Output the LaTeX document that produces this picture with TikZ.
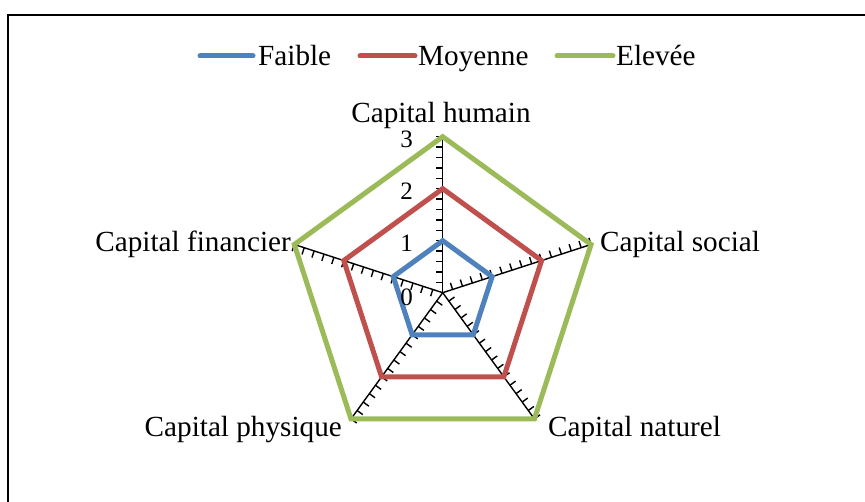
\documentclass[tikz,border=0pt]{standalone}
\usepackage{fontspec}
\setmainfont{Liberation Serif}
\definecolor{sblue}{HTML}{4F81BD}
\definecolor{sred}{HTML}{C0504D}
\definecolor{sgreen}{HTML}{9BBB59}
\begin{document}
\begin{tikzpicture}[x=1pt,y=1pt,
  lab/.style={font=\fontsize{29.2}{34}\selectfont, inner sep=0pt},
  num/.style={font=\fontsize{25}{30}\selectfont, inner sep=0pt, anchor=east},
  axisline/.style={line width=1.4pt, black},
  series/.style={line width=5pt, line join=miter},
  keyline/.style={line width=5pt, line cap=round}]
\useasboundingbox (0,0) rectangle (865,501);
\clip (0,0) rectangle (865,501);
% frame
\draw[line width=2pt] (8,486) rectangle (885,-30);
% legend
\coordinate (kb1) at (200,445); \coordinate (kb2) at (253,445);
\coordinate (kr1) at (360,445); \coordinate (kr2) at (415,445);
\coordinate (kg1) at (557,445); \coordinate (kg2) at (613,445);
\draw[keyline, sblue] (kb1) -- (kb2);
\draw[keyline, sred] (kr1) -- (kr2);
\draw[keyline, sgreen] (kg1) -- (kg2);
\node[lab, anchor=base west] (tb) at (258,435) {Faible};
\node[lab, anchor=base west] (tr) at (418,435) {Moyenne};
\node[lab, anchor=base west] (tg) at (616,435) {Elevée};
% radar
\begin{scope}[shift={(442.7,208.3)}]
  \coordinate (c) at (0,0);
  \foreach \k in {0,...,4} {
    \coordinate (g\k) at ({90-72*\k}:156);
    \coordinate (r\k) at ({90-72*\k}:104);
    \coordinate (b\k) at ({90-72*\k}:52);
  }
  \foreach \k in {0,...,4} {
    \draw[axisline] (c) -- (g\k);
    \foreach \i in {1,...,15} {
      \draw[axisline] ({90-72*\k}:{\i*10.4}) -- ++({180-72*\k}:7);
    }
  }
\end{scope}
\draw[series, sblue] (b0) -- (b1) -- (b2) -- (b3) -- (b4) -- cycle;
\draw[series, sred] (r0) -- (r1) -- (r2) -- (r3) -- (r4) -- cycle;
\draw[series, sgreen] (g0) -- (g1) -- (g2) -- (g3) -- (g4) -- cycle;
% value labels
\node[num] (n0) at (413,203.3) {0};
\node[num] (n1) at (413,257.3) {1};
\node[num] (n2) at (413,309.3) {2};
\node[num] (n3) at (413,361.3) {3};
% category labels
\node[lab, anchor=base] (lh) at (441,378) {Capital humain};
\node[lab, anchor=base west] (ls) at (600,249) {Capital social};
\node[lab, anchor=base west] (ln) at (548,65) {Capital naturel};
\node[lab, anchor=base east] (lp) at (342,65) {Capital physique};
\node[lab, anchor=base east] (lf) at (291,249) {Capital financier};
\end{tikzpicture}
\end{document}
